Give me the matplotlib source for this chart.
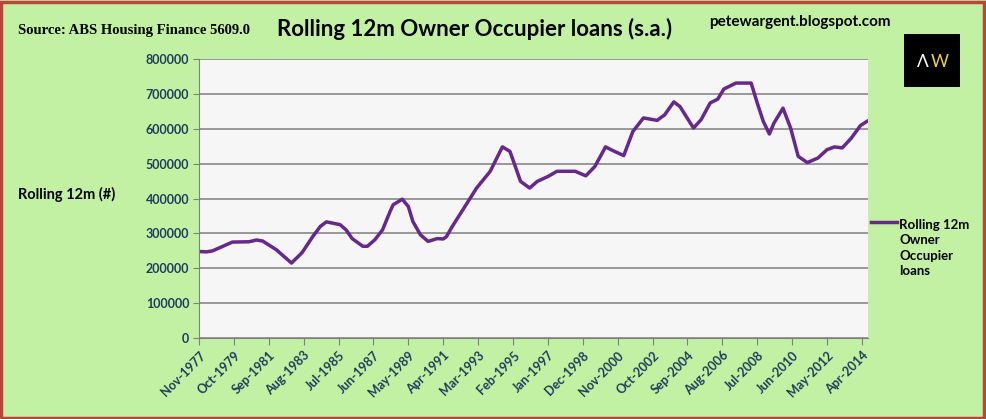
import matplotlib
matplotlib.use("Agg")
import matplotlib.pyplot as plt
from matplotlib.patches import Rectangle

# months since Nov-1977, rolling 12m owner occupier loans (#)
months = [0, 5, 9, 22, 33, 38, 42, 51, 61, 68, 75, 80, 84, 93, 97, 101, 108, 111,
          116, 121, 126, 128, 134, 138, 141, 146, 151, 157, 161, 163, 167, 174, 183,
          192, 200, 205, 212, 218, 223, 230, 236, 248, 255, 261, 268, 273, 280, 286,
          293, 302, 307, 313, 317, 326, 331, 337, 342, 346, 354, 364, 368, 372, 376,
          379, 385, 390, 395, 401, 408, 414, 419, 424, 430, 436, 441]
loans = [248000, 247000, 250000, 275000, 276000, 281000, 278000, 253000, 215000,
         245000, 291000, 320000, 333000, 325000, 310000, 285000, 263000, 263000,
         282000, 310000, 363000, 382000, 398000, 377000, 334000, 296000, 277000,
         285000, 284000, 290000, 320000, 368000, 430000, 478000, 548000, 535000,
         449000, 430000, 449000, 463000, 478000, 478000, 465000, 492000, 548000,
         537000, 523000, 592000, 631000, 624000, 640000, 677000, 664000, 602000,
         626000, 674000, 685000, 714000, 731000, 731000, 674000, 621000, 585000,
         616000, 659000, 602000, 521000, 503000, 516000, 540000, 548000, 545000,
         573000, 609000, 623000]

tick_labels = ["Nov-1977", "Oct-1979", "Sep-1981", "Aug-1983", "Jul-1985", "Jun-1987",
               "May-1989", "Apr-1991", "Mar-1993", "Feb-1995", "Jan-1997", "Dec-1998",
               "Nov-2000", "Oct-2002", "Sep-2004", "Aug-2006", "Jul-2008", "Jun-2010",
               "May-2012", "Apr-2014"]
tick_pos = [i * 23 for i in range(len(tick_labels))]

bg = "#c3f1a3"
navy = "#1f3d5c"
purple = "#66288c"

fig = plt.figure(figsize=(9.87, 4.19), dpi=100, facecolor=bg)
ax = fig.add_axes([0.2016, 0.1933, 0.6778, 0.6659])
ax.set_facecolor("#f6f6f6")

ax.plot(months, loans, color=purple, lw=2.5, solid_capstyle="round",
        solid_joinstyle="round")

ax.set_xlim(0, 441)
ax.set_ylim(0, 800000)
ax.set_yticks(range(0, 800001, 100000))
ax.yaxis.grid(True, color="#7f7f7f", lw=1.1)
ax.set_axisbelow(True)
ax.set_xticks(tick_pos)
ax.set_xticklabels(tick_labels, rotation=45, ha="right", rotation_mode="anchor")
for lab in ax.get_xticklabels() + ax.get_yticklabels():
    lab.set_fontweight("bold")
    lab.set_color(navy)
    lab.set_fontfamily("Lato")
    lab.set_fontsize(9)
ax.tick_params(axis="both", color="#7f7f7f", length=4, pad=3)
ax.tick_params(axis="x", length=5)
for s in ["top", "right"]:
    ax.spines[s].set_visible(False)
for s in ["left", "bottom"]:
    ax.spines[s].set_color("#7f7f7f")

# texts
fig.text(0.018, 0.928, "Source: ABS Housing Finance 5609.0", family="Liberation Serif",
         fontweight="bold", fontsize=10.5, va="center", ha="left")
fig.text(0.481, 0.932, "Rolling 12m Owner Occupier loans (s.a.)", family="Lato",
         fontweight="bold", fontsize=16, va="center", ha="center")
fig.text(0.718, 0.947, "petewargent.blogspot.com", family="Lato",
         fontweight="bold", fontsize=11, va="center", ha="left")
fig.text(0.018, 0.535, "Rolling 12m (#)", family="Lato", fontweight="bold",
         fontsize=10.5, va="center", ha="left")

# legend
fig.add_artist(plt.Line2D([0.882, 0.909], [0.470, 0.470], color=purple, lw=2.5))
fig.text(0.911, 0.408, "Rolling 12m\nOwner\nOccupier\nloans", family="Lato",
         fontweight="bold", fontsize=9.5, va="center", ha="left", linespacing=1.33)

# AW logo
fig.add_artist(Rectangle((0.916, 0.793), 0.057, 0.126, transform=fig.transFigure,
                         facecolor="black", edgecolor="none"))
fig.text(0.935, 0.852, "\u039b", color="white", fontsize=12.5, ha="center", va="center",
         family="Lato")
fig.text(0.952, 0.852, "W", color="#e8d23a", fontsize=12.5, ha="center", va="center",
         family="Lato")

# red frame
fig.add_artist(Rectangle((0.0015, 0.003), 0.9955, 0.993, transform=fig.transFigure,
                         facecolor="none", edgecolor="#b8473a", lw=2.5))

fig.savefig("out.png", dpi=100, facecolor=bg)
